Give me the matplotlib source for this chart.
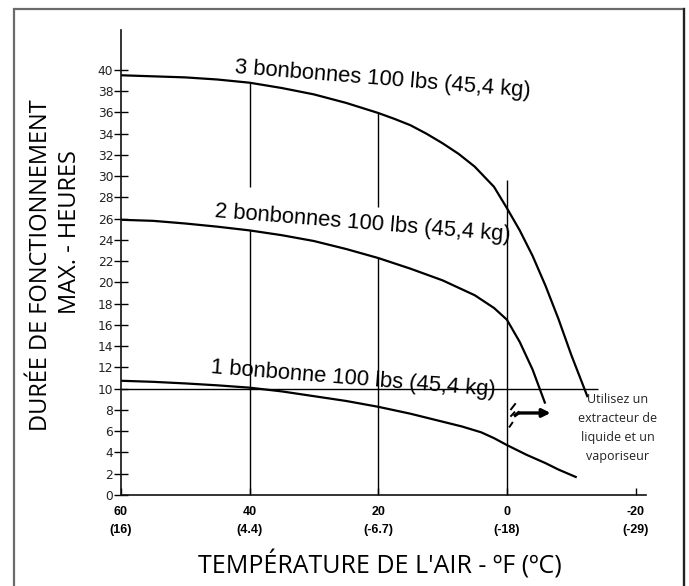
import matplotlib
matplotlib.use("Agg")
import matplotlib.pyplot as plt
from matplotlib.patches import Rectangle

# temperature (°F) / max running time (hours)
temp_3 = [60, 50, 45, 40, 35, 30, 25, 20, 17.5, 15, 12.5, 10, 7.5, 5, 2, 0,
          -2, -4, -6, -8, -10, -12.5]
hours_3 = [39.5, 39.3, 39.1, 38.8, 38.3, 37.7, 36.9, 35.95, 35.4, 34.8, 34.0,
           33.1, 32.1, 30.9, 29.0, 27.0, 24.9, 22.5, 19.7, 16.6, 13.2, 9.3]

temp_2 = [60, 55, 50, 45, 40, 35, 30, 25, 20, 15, 10, 5, 2, 0, -2, -4, -5.9]
hours_2 = [25.9, 25.8, 25.55, 25.25, 24.9, 24.45, 23.9, 23.15, 22.3, 21.3, 20.2,
           18.8, 17.6, 16.5, 14.4, 11.8, 8.7]

temp_1 = [60, 55, 50, 45, 40, 35, 30, 25, 20, 15, 10, 7, 4, 2, 0, -3, -6, -8, -10.7]
hours_1 = [10.75, 10.65, 10.5, 10.32, 10.1, 9.75, 9.3, 8.85, 8.3, 7.65, 6.9, 6.45,
           5.9, 5.35, 4.7, 3.8, 3.0, 2.4, 1.7]

# vertical reference lines: temperature, bottom, top (two pieces at 40 and 20)
ref_temp = [40, 40, 20, 20, 0]
ref_low = [29.0, 0, 27.1, 0, 0]
ref_high = [38.8, 24.9, 35.95, 22.3, 29.6]

limit_hours = 10
limit_end = -14.2

# arrow "use a liquid extractor" and the small break marks beside it
arrow_x = [-1.3, -1.8, -6.8]
arrow_y = [7.5, 7.72, 7.72]
hash_x = [(-0.65, -1.28), (-0.65, -1.17), (-0.43, -0.85)]
hash_y = [(8.07, 8.56), (7.44, 7.78), (6.43, 6.80)]

y_ticks = list(range(0, 41, 2))
x_ticks = [60, 40, 20, 0, -20]
x_ticklabels = ["60\n(16)", "40\n(4.4)", "20\n(-6.7)", "0\n(-18)", "-20\n(-29)"]

curve_labels = ["3 bonbonnes 100 lbs (45,4 kg)",
                "2 bonbonnes 100 lbs (45,4 kg)",
                "1 bonbonne 100 lbs (45,4 kg)"]
label_pos = [(42.3, 39.7), (45.4, 26.2), (46.1, 11.5)]

fig = plt.figure(figsize=(6.89, 5.86), dpi=100)

# frame around the whole figure (open at the bottom)
fig.patches.append(Rectangle((14 / 689, -0.05), 670 / 689, 1.05 - 9 / 586,
                             transform=fig.transFigure, fill=False,
                             edgecolor="#6a6a6a", lw=1.6))
# the right edge of the frame is darker
fig.add_artist(plt.Line2D([684 / 689, 684 / 689], [0, 1 - 9 / 586],
                          transform=fig.transFigure, color="#222222", lw=1.6))

ax = fig.add_axes([121 / 689, 91 / 586, 524.8 / 689, 465 / 586])
ax.set_xlim(60, -21.6)
ax.set_ylim(0, 43.76)

for s in ["top", "right"]:
    ax.spines[s].set_visible(False)
for s in ["left", "bottom"]:
    ax.spines[s].set_linewidth(1.2)
    ax.spines[s].set_color("#111111")

# curves
for t, h in [(temp_3, hours_3), (temp_2, hours_2), (temp_1, hours_1)]:
    ax.plot(t, h, color="black", lw=1.6, solid_joinstyle="round")

# reference lines
ax.vlines(ref_temp, ref_low, ref_high, color="black", lw=1.0)
ax.hlines(limit_hours, 60, limit_end, color="black", lw=1.0)

# arrow and marks
ax.plot(arrow_x[:2], arrow_y[:2], color="black", lw=2.4)
ax.annotate("", xy=(arrow_x[2], arrow_y[2]), xytext=(arrow_x[1], arrow_y[1]),
            arrowprops=dict(arrowstyle="-|>", lw=2.4, color="black",
                            mutation_scale=12, shrinkA=0, shrinkB=0))
for hx, hy in zip(hash_x, hash_y):
    ax.plot(hx, hy, color="black", lw=1.4)

for txt, (tx, ty) in zip(curve_labels, label_pos):
    ax.text(tx, ty, txt, fontsize=15.8, family="Liberation Sans",
            rotation=-4.6, rotation_mode="anchor", ha="left", va="baseline")

ax.text(-17.2, 6.3, "Utilisez un\nextracteur de\nliquide et un\nvaporiseur",
        fontsize=9, family="Open Sans", ha="center", va="center",
        linespacing=1.6, color="#222222")

ax.set_yticks(y_ticks)
ax.set_yticklabels([str(v) for v in y_ticks], fontsize=8.8, family="DejaVu Sans",
                   color="#222222")
ax.tick_params(axis="y", direction="inout", length=10, width=1, pad=0.5)

ax.set_xticks(x_ticks)
ax.set_xticklabels(x_ticklabels, fontsize=9, family="Liberation Sans",
                   fontweight="bold", linespacing=1.6)
ax.tick_params(axis="x", direction="in", length=5, width=1, pad=8)

fig.text(380 / 689, 1 - 565 / 586, "TEMPÉRATURE DE L'AIR - ºF (ºC)",
         fontsize=18, family="Open Sans", ha="center", va="center")
fig.text(41 / 689, 1 - 265 / 586, "DURÉE DE FONCTIONNEMENT",
         fontsize=17, family="Open Sans", ha="center", va="center", rotation=90)
fig.text(70 / 689, 1 - 232 / 586, "MAX. - HEURES",
         fontsize=17, family="Open Sans", ha="center", va="center", rotation=90)

fig.savefig("out.png", dpi=100)
